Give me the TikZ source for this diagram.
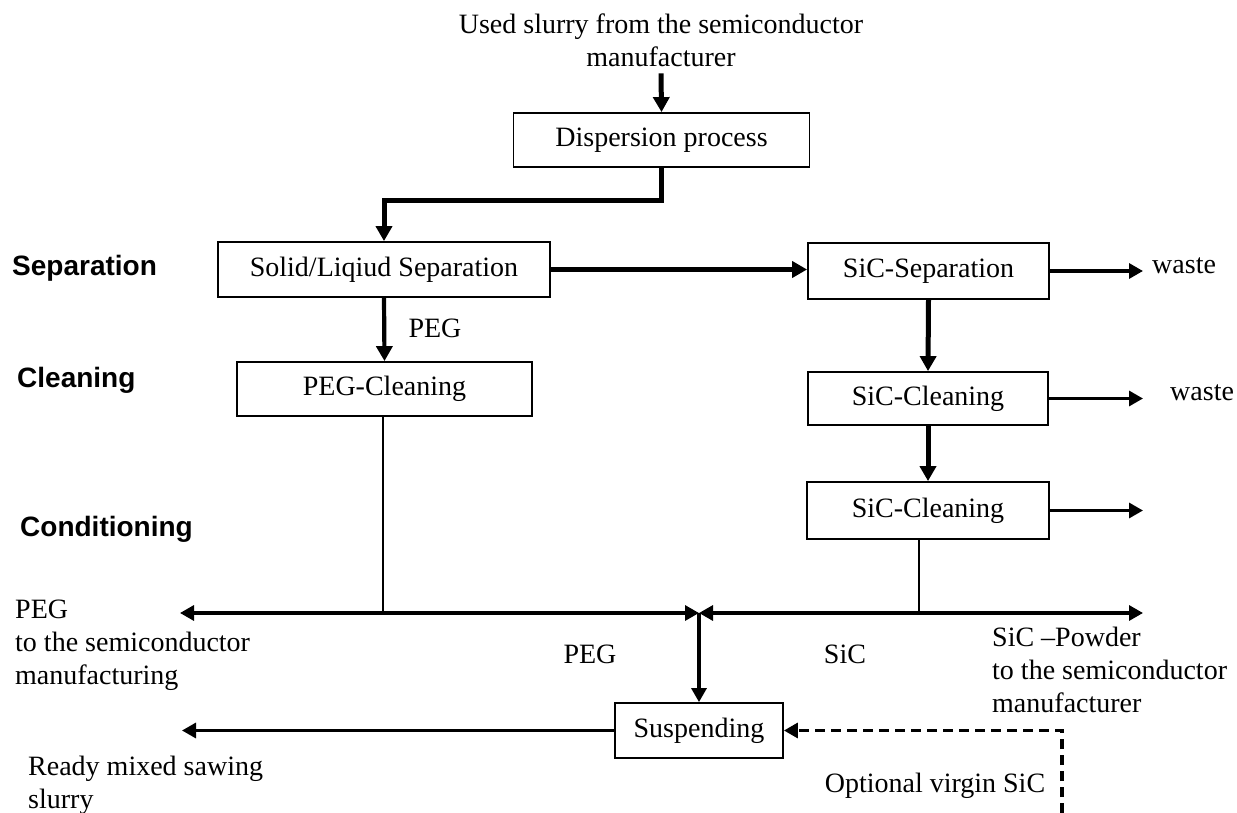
\documentclass[tikz,border=0pt]{standalone}
\usepackage{fontspec}
\setmainfont{Liberation Serif}
\newfontfamily\stagefont{Liberation Sans}
\usetikzlibrary{arrows.meta}
\begin{document}
\begin{tikzpicture}[x=1pt,y=-1pt,
  box/.style={draw, line width=1.8pt, minimum height=54pt, inner sep=0pt, font=\fontsize{28pt}{33pt}\selectfont},
  txt/.style={inner sep=0pt, font=\fontsize{28pt}{33pt}\selectfont},
  stage/.style={inner sep=0pt, font=\stagefont\bfseries\fontsize{28pt}{30pt}\selectfont},
  thickarr/.style={line width=5pt, -{Triangle[length=15pt,width=16pt]}},
  medarr/.style={line width=3.2pt, -{Triangle[length=14pt,width=15pt]}},
  thinline/.style={line width=2pt},
  dashedarr/.style={line width=3.2pt, dash pattern=on 10pt off 6pt, -{Triangle[length=14pt,width=15pt]}}
]
\fill[white] (0,0) rectangle (1237,813);
\useasboundingbox (0,0) rectangle (1237,813);

% process boxes
\node[box, minimum width=296pt, minimum height=54pt] (disp) at (661.5,140) {Dispersion process};
\node[box, minimum width=332pt, minimum height=55pt] (solid) at (384,269.5) {Solid/Liqiud Separation};
\node[box, minimum width=295pt, minimum height=54pt] (pegc) at (384.5,389) {PEG-Cleaning};
\node[box, minimum width=241pt, minimum height=56pt] (sicsep) at (928.5,271) {SiC-Separation};
\node[box, minimum width=240pt, minimum height=53pt] (sicc1) at (928,398.5) {SiC-Cleaning};
\node[box, minimum width=242pt, minimum height=57pt] (sicc2) at (928,510.5) {SiC-Cleaning};
\node[box, minimum width=168pt, minimum height=55pt] (susp) at (699,730.5) {Suspending};

% texts
\node[txt, align=center, anchor=north] (src) at (661,14) {Used slurry from the semiconductor\\manufacturer};
\node[txt, anchor=base] (peg1) at (435,337) {PEG};
\node[txt, anchor=base] (peg2) at (590,663) {PEG};
\node[txt, anchor=base] (sic) at (845,663) {SiC};
\node[txt, anchor=base west] (w1) at (1152,273) {waste};
\node[txt, anchor=base west] (w2) at (1170,400) {waste};
\node[txt, anchor=base] (virgin) at (935,792) {Optional virgin SiC};
\node[txt, align=left, anchor=north west] (pegout) at (15,600) {PEG\\to the semiconductor\\manufacturing};
\node[txt, align=left, anchor=north west] (sicpow) at (992,627) {SiC –Powder\\to the semiconductor\\manufacturer};
\node[txt, align=left, anchor=north west] (ready) at (28,756) {Ready mixed sawing\\slurry};

% stage labels
\node[stage, anchor=base west] (st1) at (12,276) {Separation};
\node[stage, anchor=base west] (st2) at (17,387) {Cleaning};
\node[stage, anchor=base west] (st3) at (20,536) {Conditioning};

% coordinates
\coordinate (pj) at (383,613);
\coordinate (sj) at (919,613);
\coordinate (J) at (699,613);
\coordinate (pegtip) at (180,613);
\coordinate (sictip) at (1143,613);
\coordinate (readytip) at (182,724);
\coordinate (w1tip) at (1143,271);
\coordinate (w2tip) at (1143,398);
\coordinate (w3tip) at (1143,510);
\coordinate (vbot) at (1062,813);

% connectors
\draw[thickarr] ([yshift=-6pt]src.south) -- (disp.north);
\draw[thickarr] (disp.south) -- ++(0,33) -| (solid.north);
\draw[thickarr] (solid.east) -- (solid.east -| sicsep.west);
\draw[line width=4.2pt, -{Triangle[length=15pt,width=16pt]}] (solid.south) -- (pegc.north);
\draw[thickarr] (sicsep.south) -- (sicc1.north);
\draw[thickarr] (sicc1.south) -- (sicc2.north);
\draw[medarr] (sicsep.east) -- (sicsep.east -| w1tip);
\draw[medarr] (sicc1.east) -- (sicc1.east -| w2tip);
\draw[medarr] (sicc2.east) -- (sicc2.east -| w3tip);
\draw[thinline] (pegc.south -| pj) -- (pj);
\draw[thinline] (sicc2.south -| sj) -- (sj);
\draw[medarr] (pj) -- (pegtip);
\draw[medarr] (pj) -- (J);
\draw[medarr] (sj) -- (J);
\draw[medarr] (sj) -- (sictip);
\draw[medarr] (J) -- (susp.north);
\draw[medarr] (susp.west) -- (susp.west -| readytip);
\draw[dashedarr] (vbot) |- (susp.east);
\end{tikzpicture}
\end{document}
